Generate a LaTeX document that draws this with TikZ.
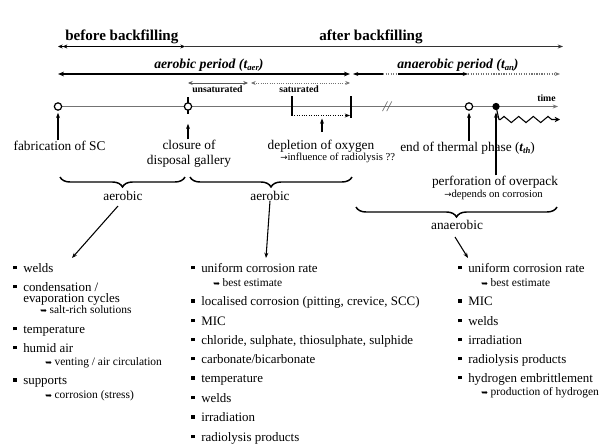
\documentclass[tikz,border=0pt]{standalone}
\usepackage{fontspec}
\setmainfont{Liberation Serif}
\newfontfamily\dejavu{DejaVu Sans}
\usetikzlibrary{arrows.meta,decorations.pathreplacing,decorations.pathmorphing,calc}
\newcommand\sbs[1]{\raisebox{-2.2pt}{\fontsize{6.5}{7}\selectfont #1}}
\newcommand\bul{\llap{\raisebox{2pt}{\rule{2.6pt}{2.6pt}}\hspace{4.8pt}}}
\newcommand\hk{{\dejavu\fontsize{6}{7}\selectfont ➥}\hspace{2pt}}
\newcommand\rarr{{\dejavu\fontsize{6.5}{7}\selectfont →}}
\tikzset{
 lbl/.style={font=\fontsize{10}{11.6}\selectfont, inner sep=0pt, align=center},
 head/.style={font=\bfseries\fontsize{11.3}{13}\selectfont, inner sep=0pt, anchor=base west},
 period/.style={font=\bfseries\itshape\fontsize{10.3}{12}\selectfont, inner sep=0pt, anchor=base west},
 tiny/.style={font=\bfseries\fontsize{7.3}{8}\selectfont, inner sep=0pt, anchor=base west},
 note/.style={font=\fontsize{8}{9}\selectfont, inner sep=0pt, anchor=base west},
 itm/.style={font=\fontsize{9.7}{11}\selectfont, inner sep=0pt, anchor=base west},
 sub/.style={font=\fontsize{8.6}{10}\selectfont, inner sep=0pt, anchor=base west},
 ocirc/.style={circle, draw, fill=white, line width=0.9pt, minimum size=5.5pt, inner sep=0pt},
 fcirc/.style={circle, fill=black, minimum size=5.5pt, inner sep=0pt},
 tip/.style={-{Stealth[length=4pt,width=3pt]}},
 upar/.style={-{Stealth[length=4pt,width=3pt]}, line width=0.8pt},
 brc/.style={decorate, decoration={brace, amplitude=7.5pt, mirror}, line width=1.1pt},
}
\begin{document}
\begin{tikzpicture}[x=0.75pt,y=-0.75pt]
\useasboundingbox[fill=white] (0,0) rectangle (607,443);

% ---- headers ----
\node[head] (bb) at (65,40) {before backfilling};
\node[head] (ab) at (319,40) {after backfilling};
\coordinate (b0) at (58,46.5);
\coordinate (b1) at (185,46.5);
\coordinate (b2) at (563,46.5);
\draw[line width=0.6pt, {Stealth[length=3.5pt,width=3pt]Stealth[length=3.5pt,width=3pt]}-{Stealth[length=3.5pt,width=3pt]}] (b0) -- (b1);
\draw[line width=0.6pt, black!80, tip] (b1) -- (b2);

% ---- periods ----
\node[period] (aer) at (154,68) {aerobic period (t\sbs{aer})};
\node[period] (ana) at (397,68) {anaerobic period (t\sbs{an})};
\coordinate (p0) at (58,74);
\coordinate (p1) at (350,74);
\coordinate (q0) at (353,74);
\coordinate (q1) at (383,74);
\coordinate (q2) at (398,74);
\coordinate (q3) at (468,74);
\coordinate (q4) at (560,74);
\draw[line width=1.3pt, {Stealth[length=4.5pt,width=3.5pt]}-{Stealth[length=4.5pt,width=3.5pt]}] (p0) -- (p1);
\draw[line width=0.9pt, {Stealth[length=4pt,width=3pt]}-] (q0) -- (q1);
\draw[line width=0.9pt, black!50, densely dotted] (q1) -- (q2);
\draw[line width=0.9pt, tip] (q2) -- (q3);
\draw[line width=0.9pt, black!55, densely dotted, tip] (q3) -- (q4);

% ---- saturation ----
\node[tiny] (uns) at (192,92.5) {unsaturated};
\node[tiny] (sat) at (279,92.5) {saturated};
\coordinate (u0) at (188,83);
\coordinate (u1) at (248,83);
\coordinate (s0) at (251,83);
\coordinate (s1) at (350,83);
\draw[line width=0.7pt, black!65, {Stealth[length=3.5pt,width=3pt]}-{Stealth[length=3.5pt,width=3pt]}] (u0) -- (u1);
\draw[line width=0.7pt, black!55, densely dotted, {Stealth[length=3.5pt,width=3pt]}-{Stealth[length=3.5pt,width=3pt]}] (s0) -- (s1);

% ---- time line ----
\coordinate (t0) at (58,106.5);
\coordinate (t1) at (558,106.5);
\draw[line width=1.2pt, black!55, tip] (t0) -- (t1);
\node[tiny] (time) at (537,101) {time};
\draw[line width=0.9pt] (188,97) -- (188,114);
\node[ocirc] (c1) at (58,106.5) {};
\node[ocirc] (c2) at (188,106.5) {};
\node[ocirc] (c3) at (469,106.5) {};
\node[fcirc] (c4) at (496,106.5) {};
% saturated bracket
\coordinate (k0) at (292,96);
\coordinate (k1) at (292,115.5);
\coordinate (k2) at (351,96);
\coordinate (k3) at (351,118);
\draw[line width=0.9pt] (k0) -- (k1);
\draw[line width=0.9pt] (k2) -- (k3);
\draw[line width=0.8pt, densely dotted, tip] (k1) -- (350,115.5);
% break mark
\node[inner sep=0pt, font=\itshape\fontsize{11}{12}\selectfont, black!65] (brk) at (387,107) {//};
% wave
\coordinate (w0) at (499,119.5);
\coordinate (w1) at (560,119.5);
\draw[line width=0.8pt, -{Stealth[length=4pt,width=4pt,open]}] (c4.center) -- (w0)
  decorate[decoration={zigzag, amplitude=2.3pt, segment length=11pt, pre length=1pt, post length=3pt}] {-- (w1)};

% ---- labels ----
\node[lbl, anchor=base] (fab) at (59.5,150) {fabrication of SC};
\node[lbl, anchor=base] (clo) at (189,164.5) {closure of\\disposal gallery};
\node[lbl, anchor=base] (dep) at (321,149) {depletion of oxygen};
\node[note] (rad) at (280,160) {\rarr influence of radiolysis ??};
\node[lbl, anchor=base west] (eth) at (400,151) {end of thermal phase (\textbf{\textit{t\sbs{th}}})};
\node[lbl, anchor=base] (per) at (495,185) {perforation of overpack};
\node[note] (dpc) at (444,197.5) {\rarr depends on corrosion};

\draw[upar] (c1 |- fab.north) -- ($(c1.south)+(0,2)$);
\draw[upar] (c2 |- clo.north) -- ($(c2.south)+(0,13)$);
\draw[upar] (322,132) -- (322,118.5);
\draw[upar] (c3 |- eth.north) -- ($(c3.south)+(0,2)$);
\draw[upar] (c4 |- per.north) -- ($(c4.south)+(0,2)$);

% ---- braces ----
\draw[brc] (60,177) -- (185,177);
\draw[brc] (190,177) -- (352,177);
\draw[brc] (356,207) -- (557,207);
\node[lbl, anchor=base] (ae1) at (123,200.5) {aerobic};
\node[lbl, anchor=base] (ae2) at (270,200.5) {aerobic};
\node[lbl, anchor=base] (an1) at (457,229.5) {anaerobic};
\coordinate (l0) at (72,258);
\coordinate (m0) at (266,258);
\coordinate (r0) at (468,258);
\draw[upar] (118,206) -- (l0);
\draw[upar] (ae2.south) -- (m0);
\draw[upar] (455,237) -- (r0);

% ---- left list ----
\node[itm] (la) at (23,272) {\bul welds};
\node[itm] (lb) at (23,291) {\bul condensation /};
\node[itm] (lc) at (23,302) {evaporation cycles};
\node[sub] (ld) at (40,313) {\hk salt-rich solutions};
\node[itm] (le) at (23,333) {\bul temperature};
\node[itm] (lf) at (23,352) {\bul humid air};
\node[sub] (lg) at (45,365) {\hk venting / air circulation};
\node[itm] (lh) at (23,384.5) {\bul supports};
\node[sub] (li) at (45,398.5) {\hk corrosion (stress)};

% ---- middle list ----
\node[itm] (ma) at (201,272) {\bul uniform corrosion rate};
\node[sub] (mb) at (213,286) {\hk best estimate};
\node[itm] (mc) at (201,305.5) {\bul localised corrosion (pitting, crevice, SCC)};
\node[itm] (md) at (201,325) {\bul MIC};
\node[itm] (me) at (201,344) {\bul chloride, sulphate, thiosulphate, sulphide};
\node[itm] (mf) at (201,363) {\bul carbonate/bicarbonate};
\node[itm] (mg) at (201,382.5) {\bul temperature};
\node[itm] (mh) at (201,402) {\bul welds};
\node[itm] (mi) at (201,421.5) {\bul irradiation};
\node[itm] (mj) at (201,441) {\bul radiolysis products};

% ---- right list ----
\node[itm] (ra) at (468,272) {\bul uniform corrosion rate};
\node[sub] (rb) at (481,286) {\hk best estimate};
\node[itm] (rc) at (468,305.5) {\bul MIC};
\node[itm] (rd) at (468,325) {\bul welds};
\node[itm] (re) at (468,344) {\bul irradiation};
\node[itm] (rf) at (468,363) {\bul radiolysis products};
\node[itm] (rg) at (468,382) {\bul hydrogen embrittlement};
\node[sub] (rh) at (481,395.5) {\hk production of hydrogen};
\end{tikzpicture}
\end{document}
